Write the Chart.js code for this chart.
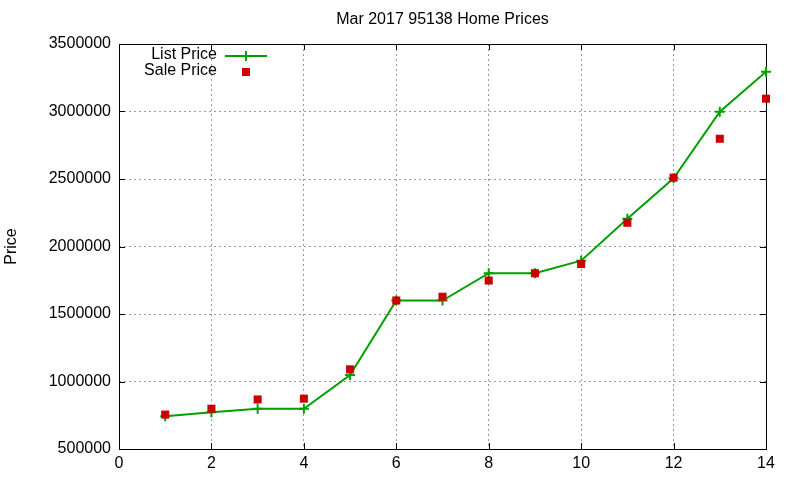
<!DOCTYPE html>
<html>
<head>
<meta charset="utf-8">
<title>Mar 2017 95138 Home Prices</title>
<script src="https://cdn.jsdelivr.net/npm/chart.js@4/dist/chart.umd.min.js"></script>
<style>
  html, body { margin: 0; padding: 0; background: #fff; }
  #wrap { width: 800px; height: 480px; }
</style>
</head>
<body>
<div id="wrap"><canvas id="priceChart" width="800" height="480"></canvas></div>
<script>
  // data (month index 1..14)
  const months = [1, 2, 3, 4, 5, 6, 7, 8, 9, 10, 11, 12, 13, 14];
  const listPrice = [742000, 772000, 798000, 798000, 1048000, 1600000, 1600000,
    1802000, 1802000, 1895000, 2205000, 2505000, 2998000, 3295000];
  const salePrice = [755000, 798000, 867000, 873000, 1090000, 1600000, 1628000,
    1748000, 1802000, 1870000, 2176000, 2510000, 2798000, 3095000];
  const xTicks = [0, 2, 4, 6, 8, 10, 12, 14];
  const yTicks = [500000, 1000000, 1500000, 2000000, 2500000, 3000000, 3500000];

  const FONT = '"Liberation Sans", Arial, sans-serif';
  const GREEN = '#00a000';
  const RED = '#cc0000';

  const toPoints = (vals) => months.map((m, i) => ({ x: m, y: vals[i] }));

  // gnuplot style box with inward tick marks on all four sides
  const framePlugin = {
    id: 'frame',
    beforeDatasetsDraw(chart) {
      const { ctx, chartArea: a, scales } = chart;
      const len = 6;
      ctx.save();
      ctx.strokeStyle = '#000';
      ctx.lineWidth = 1;
      ctx.beginPath();
      scales.x.ticks.forEach((t) => {
        const px = Math.round(scales.x.getPixelForValue(t.value)) + 0.5;
        ctx.moveTo(px, a.bottom); ctx.lineTo(px, a.bottom - len);
        ctx.moveTo(px, a.top); ctx.lineTo(px, a.top + len);
      });
      scales.y.ticks.forEach((t) => {
        const py = Math.round(scales.y.getPixelForValue(t.value)) + 0.5;
        ctx.moveTo(a.left, py); ctx.lineTo(a.left + len, py);
        ctx.moveTo(a.right, py); ctx.lineTo(a.right - len, py);
      });
      ctx.stroke();
      ctx.strokeRect(Math.round(a.left) + 0.5, Math.round(a.top) + 0.5,
        Math.round(a.right - a.left), Math.round(a.bottom - a.top));
      ctx.restore();
    }
  };

  // key in the top left corner, text before the sample like gnuplot
  const keyPlugin = {
    id: 'key',
    afterDraw(chart) {
      const ctx = chart.ctx;
      ctx.save();
      ctx.font = '16px ' + FONT;
      ctx.fillStyle = '#000';
      ctx.textAlign = 'right';
      ctx.textBaseline = 'middle';
      ctx.fillText('List Price', 217, 55);
      ctx.fillText('Sale Price', 217, 71);

      ctx.strokeStyle = GREEN;
      ctx.lineWidth = 2;
      ctx.beginPath();
      ctx.moveTo(225, 56); ctx.lineTo(267, 56);
      ctx.moveTo(246, 51); ctx.lineTo(246, 61);
      ctx.stroke();

      ctx.fillStyle = RED;
      ctx.fillRect(242, 68, 8, 8);
      ctx.restore();
    }
  };

  const canvas = document.getElementById('priceChart');
  const chart = new Chart(canvas, {
    type: 'scatter',
    data: {
      datasets: [
        {
          label: 'Sale Price',
          data: toPoints(salePrice),
          showLine: false,
          pointStyle: 'rect',
          pointRadius: 5.7,
          pointBorderWidth: 0,
          backgroundColor: RED,
          borderColor: RED,
          clip: false
        },
        {
          label: 'List Price',
          data: toPoints(listPrice),
          showLine: true,
          borderColor: GREEN,
          borderWidth: 2,
          backgroundColor: GREEN,
          pointStyle: 'cross',
          pointRadius: 5,
          pointBorderWidth: 2,
          pointBorderColor: GREEN,
          tension: 0,
          clip: false
        }
      ]
    },
    options: {
      responsive: false,
      animation: false,
      devicePixelRatio: 1,
      layout: { padding: { left: 0, right: 34, top: 0, bottom: 0 } },
      plugins: {
        legend: { display: false },
        tooltip: { enabled: false },
        title: {
          display: true,
          text: 'Mar 2017 95138 Home Prices',
          fullSize: false,
          color: '#000',
          font: { family: FONT, size: 16, weight: 'normal' },
          padding: { top: 10, bottom: 14.8 }
        }
      },
      scales: {
        x: {
          type: 'linear',
          min: xTicks[0],
          max: xTicks[xTicks.length - 1],
          afterBuildTicks: (scale) => { scale.ticks = xTicks.map((v) => ({ value: v })); },
          afterFit: (scale) => { scale.height = 31; },
          border: { display: false },
          grid: {
            drawTicks: false,
            color: '#999',
            lineWidth: 1,
            tickBorderDash: [2, 3]
          },
          ticks: {
            color: '#000',
            padding: 5,
            maxRotation: 0,
            font: { family: FONT, size: 16 }
          }
        },
        y: {
          type: 'linear',
          min: yTicks[0],
          max: yTicks[yTicks.length - 1],
          afterBuildTicks: (scale) => { scale.ticks = yTicks.map((v) => ({ value: v })); },
          afterFit: (scale) => { scale.width = 119; },
          border: { display: false },
          grid: {
            drawTicks: false,
            color: '#999',
            lineWidth: 1
          },
          ticks: {
            color: '#000',
            padding: 8,
            font: { family: FONT, size: 16 },
            callback: (v) => String(v)
          },
          title: {
            display: true,
            text: 'Price',
            color: '#000',
            font: { family: FONT, size: 16 },
            padding: { top: 2.4, bottom: 0 }
          }
        }
      }
    },
    plugins: [framePlugin, keyPlugin]
  });

  // dotted grid like gnuplot
  chart.options.scales.x.border.dash = [2, 3];
  chart.options.scales.y.border.dash = [2, 3];
  chart.update();
</script>
</body>
</html>
